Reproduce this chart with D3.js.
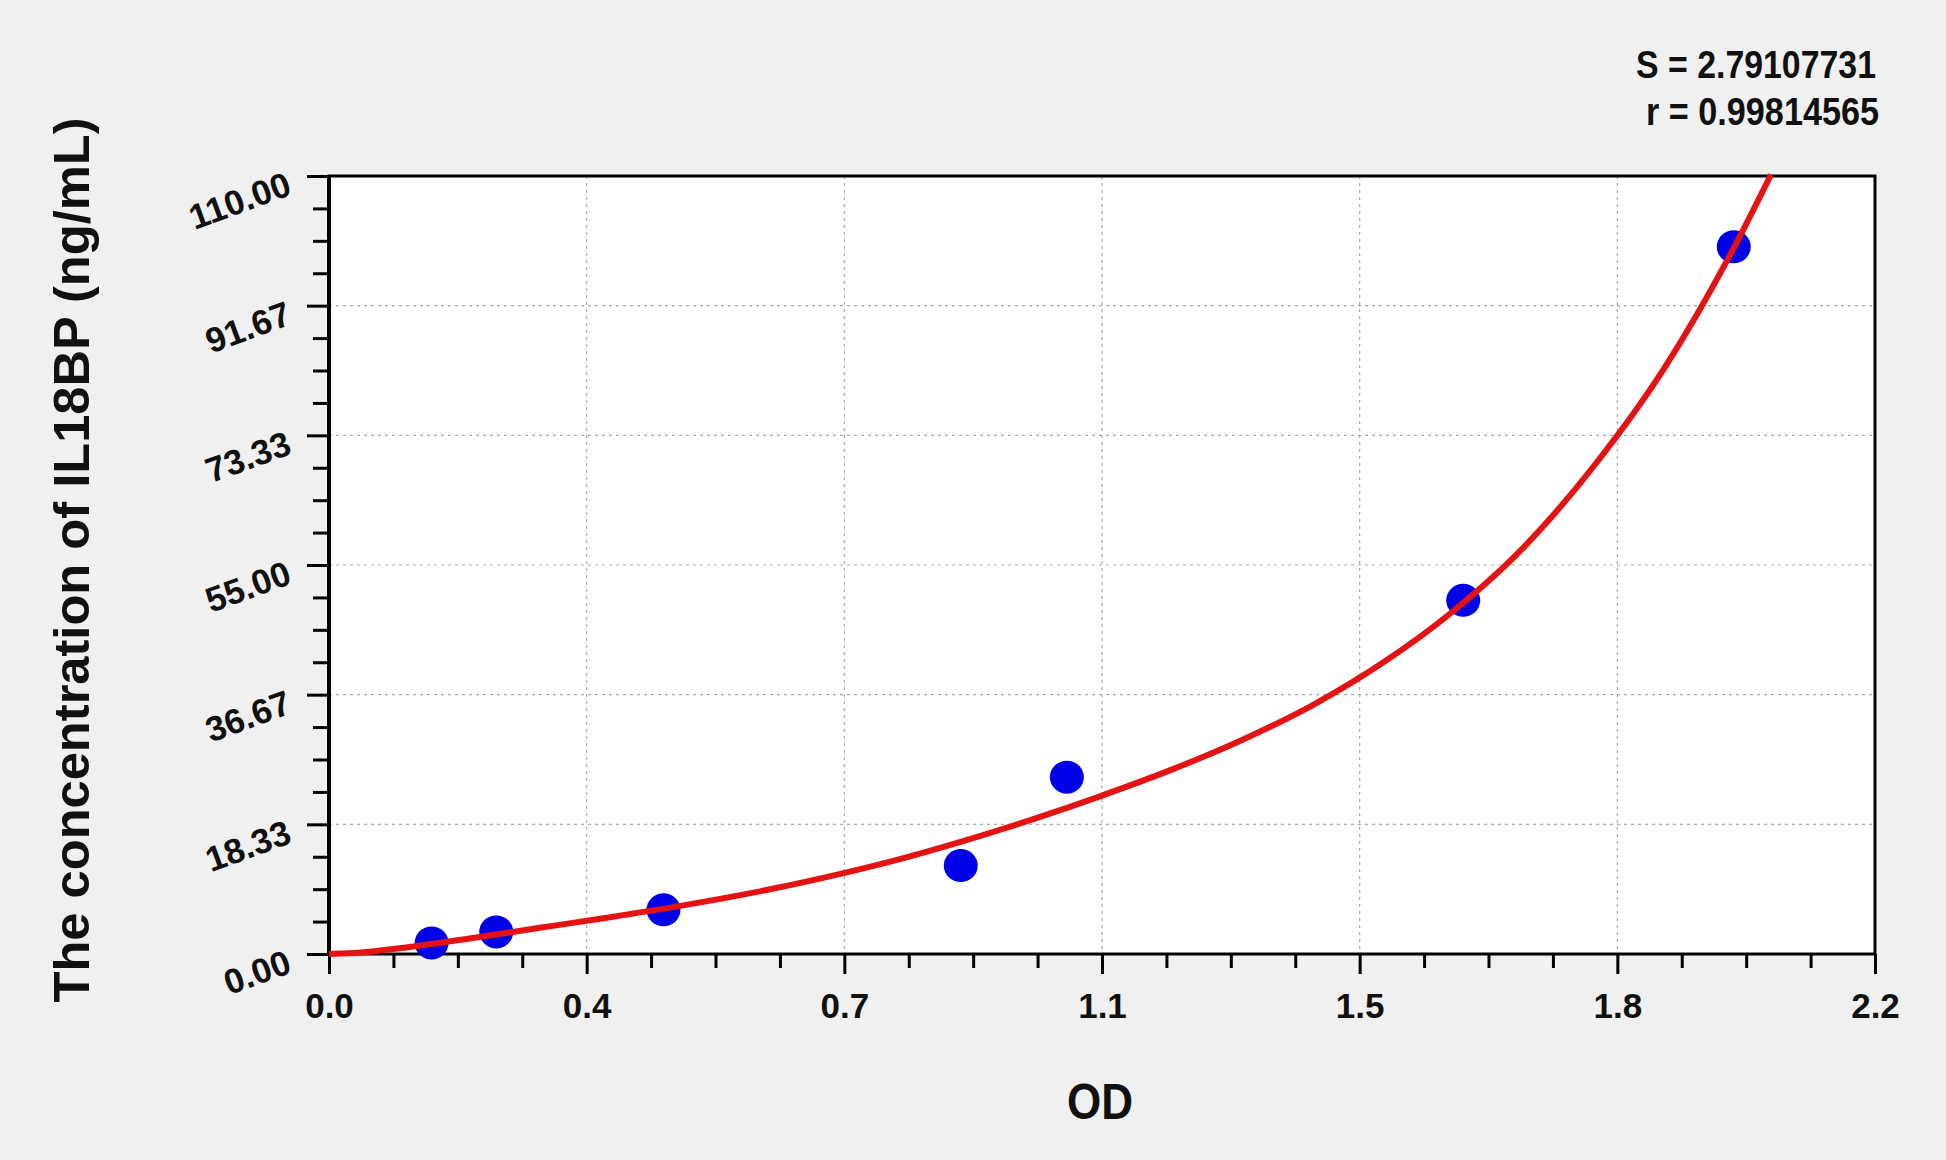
<!DOCTYPE html>
<html>
<head>
<meta charset="utf-8">
<script src="https://cdn.jsdelivr.net/npm/d3@7"></script>
<style>
	body { margin: 0; background: #f0f0f0; }
	text { font-family: Arial, "Liberation Sans", sans-serif; font-weight: bold; fill: #111; }
</style>
</head>
<body>
<div id="chart"></div>
<script>
// standards
var odValues = [0.146, 0.238, 0.476, 0.899, 1.050, 1.614, 1.999];
var concValues = [1.5625, 3.125, 6.25, 12.5, 25, 50, 100];

// fitted curve at a few OD values
var curveOd = [0, 0.05, 0.1, 0.2, 0.3, 0.4, 0.5, 0.6, 0.7, 0.8, 0.9, 1.0, 1.1, 1.2, 1.3, 1.4, 1.5, 1.6, 1.7, 1.8, 1.9, 2.0, 2.052];
var curveConc = [0, 0.25, 0.8, 2.2, 3.7, 5.2, 6.8, 8.6, 10.7, 13.1, 15.9, 19.0, 22.4, 26.1, 30.3, 35.2, 41.2, 48.5, 57.5, 69.0, 82.8, 100.0, 110.2];

var xTickLabels = ["0.0", "0.4", "0.7", "1.1", "1.5", "1.8", "2.2"];
var yTickLabels = ["0.00", "18.33", "36.67", "55.00", "73.33", "91.67", "110.00"];

var statLines = ["S = 2.79107731", "r = 0.99814565"];

var xMax = 2.2,
	yMax = 110,
	majorSteps = 6,
	minorPerMajor = 4;

var svgContainer,
	plot = { left: 329, right: 1875, top: 176, bottom: 954 },
	xScale, yScale;

function onLoad() {
	svgContainer = d3.select("#chart")
	.append("svg")
	.attr("width", 1946)
	.attr("height", 1160);

	svgContainer.append("rect")
	.attr("width", 1946)
	.attr("height", 1160)
	.attr("fill", "#f0f0f0");

	xScale = d3.scaleLinear().domain([0, xMax]).range([plot.left, plot.right]);
	yScale = d3.scaleLinear().domain([0, yMax]).range([plot.bottom, plot.top]);

	drawPlotArea();
	drawGrid();
	drawAxes();
	drawPoints();
	drawCurve();
	drawTexts();
}

////////////////////////////////////////////
////////////HELPERS/////////////////////////
////////////////////////////////////////////

function majorTicks(max) {
	return d3.range(majorSteps + 1).map(function (i) { return max * i / majorSteps; });
}

function minorTicks(max) {
	var n = majorSteps * minorPerMajor;
	return d3.range(n + 1)
		.filter(function (i) { return i % minorPerMajor !== 0; })
		.map(function (i) { return max * i / n; });
}

///////////////////////////////////
////////////DRAWING////////////////
///////////////////////////////////

function drawPlotArea() {
	svgContainer.append("rect")
	.attr("x", plot.left)
	.attr("y", plot.top)
	.attr("width", plot.right - plot.left)
	.attr("height", plot.bottom - plot.top)
	.attr("fill", "#ffffff");
}

function drawGrid() {
	var xs = majorTicks(xMax).slice(1, -1);
	var ys = majorTicks(yMax).slice(1, -1);

	svgContainer.append("g").selectAll("line")
	.data(xs).enter().append("line")
	.attr("x1", function (d) { return xScale(d); })
	.attr("x2", function (d) { return xScale(d); })
	.attr("y1", plot.top)
	.attr("y2", plot.bottom)
	.attr("stroke", "#a8a8a8")
	.attr("stroke-width", 1.2)
	.attr("stroke-dasharray", "3,4");

	svgContainer.append("g").selectAll("line")
	.data(ys).enter().append("line")
	.attr("x1", plot.left)
	.attr("x2", plot.right)
	.attr("y1", function (d) { return yScale(d); })
	.attr("y2", function (d) { return yScale(d); })
	.attr("stroke", "#a8a8a8")
	.attr("stroke-width", 1.2)
	.attr("stroke-dasharray", "3,4");
}

function drawAxes() {
	// minor ticks first
	svgContainer.append("g")
	.attr("transform", "translate(0," + plot.bottom + ")")
	.call(d3.axisBottom(xScale).tickValues(minorTicks(xMax)).tickSize(14).tickFormat(""))
	.call(styleAxis);

	svgContainer.append("g")
	.attr("transform", "translate(" + plot.left + ",0)")
	.call(d3.axisLeft(yScale).tickValues(minorTicks(yMax)).tickSize(16).tickFormat(""))
	.call(styleAxis);

	var xAxisGroup = svgContainer.append("g")
	.attr("transform", "translate(0," + plot.bottom + ")")
	.call(d3.axisBottom(xScale)
		.tickValues(majorTicks(xMax))
		.tickSize(20)
		.tickPadding(19)
		.tickFormat(function (d, i) { return xTickLabels[i]; }))
	.call(styleAxis);

	xAxisGroup.selectAll("text")
	.attr("font-size", 35)
	.attr("dy", "0.72em");

	var yAxisGroup = svgContainer.append("g")
	.attr("transform", "translate(" + plot.left + ",0)")
	.call(d3.axisLeft(yScale)
		.tickValues(majorTicks(yMax))
		.tickSize(22)
		.tickFormat(function (d, i) { return yTickLabels[i]; }))
	.call(styleAxis);

	yAxisGroup.selectAll("text")
	.attr("x", null)
	.attr("dy", "0.35em")
	.attr("font-size", 35)
	.attr("text-anchor", "end")
	.attr("transform", "translate(-40,6) rotate(-20)");

	// frame
	svgContainer.append("rect")
	.attr("x", plot.left)
	.attr("y", plot.top)
	.attr("width", plot.right - plot.left)
	.attr("height", plot.bottom - plot.top)
	.attr("fill", "none")
	.attr("stroke", "#000")
	.attr("stroke-width", 3);

	svgContainer.append("line")
	.attr("x1", plot.left).attr("x2", plot.left)
	.attr("y1", plot.top - 1).attr("y2", plot.bottom + 1)
	.attr("stroke", "#000")
	.attr("stroke-width", 4);
}

function styleAxis(g) {
	g.select(".domain").remove();
	g.attr("font-family", null).attr("font-size", null);
	g.selectAll(".tick line")
	.attr("stroke", "#000")
	.attr("stroke-width", 3);
	g.selectAll(".tick text").attr("fill", "#111");
}

function drawPoints() {
	svgContainer.append("g").selectAll("ellipse")
	.data(odValues).enter().append("ellipse")
	.attr("cx", function (d) { return xScale(d); })
	.attr("cy", function (d, i) { return yScale(concValues[i]); })
	.attr("rx", 17)
	.attr("ry", 16.5)
	.attr("fill", "#0000e8");
}

function drawCurve() {
	var line = d3.line()
	.x(function (d, i) { return xScale(curveOd[i]); })
	.y(function (d, i) { return yScale(curveConc[i]); })
	.curve(d3.curveMonotoneX);

	svgContainer.append("path")
	.datum(curveOd)
	.attr("d", line)
	.attr("fill", "none")
	.attr("stroke", "#e61212")
	.attr("stroke-width", 6)
	.attr("stroke-linejoin", "round");
}

function drawTexts() {
	svgContainer.append("text")
	.attr("transform", "translate(89,560) rotate(-90)")
	.attr("text-anchor", "middle")
	.attr("font-size", 50)
	.attr("textLength", 885)
	.attr("lengthAdjust", "spacingAndGlyphs")
	.text("The concentration of IL18BP (ng/mL)");

	svgContainer.append("text")
	.attr("x", 1100)
	.attr("y", 1119)
	.attr("text-anchor", "middle")
	.attr("font-size", 50)
	.attr("textLength", 66)
	.attr("lengthAdjust", "spacingAndGlyphs")
	.text("OD");

	var statWidths = [240, 233],
		statRight = [1876, 1879],
		statBase = [78, 125];

	statLines.forEach(function (s, i) {
		svgContainer.append("text")
		.attr("x", statRight[i] - statWidths[i])
		.attr("y", statBase[i])
		.attr("font-size", 38)
		.attr("textLength", statWidths[i])
		.attr("lengthAdjust", "spacingAndGlyphs")
		.text(s);
	});
}

onLoad();
</script>
</body>
</html>
